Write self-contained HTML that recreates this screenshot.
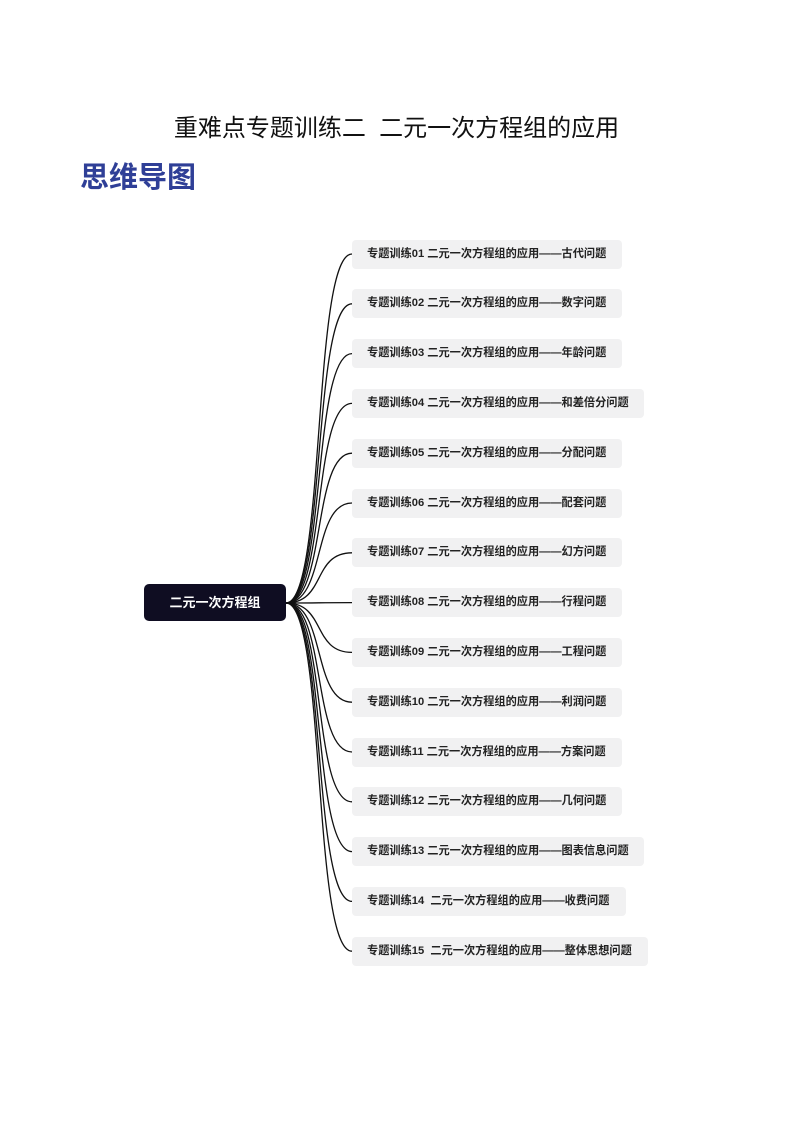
<!DOCTYPE html>
<html><head><meta charset="utf-8"><style>
body{margin:0;width:793px;height:1122px;background:#fff;position:relative;font-family:"Liberation Sans","Noto Sans CJK SC",sans-serif;overflow:hidden}
.t{position:absolute;top:108px;left:0;width:793px;text-align:center;font-size:24px;color:#111}
.h{position:absolute;left:80px;top:154px;font-size:29px;font-weight:bold;color:#2f3f97}
.root{position:absolute;left:144px;top:584px;width:142px;height:37px;background:#0f0d22;border-radius:5px;color:#fff;font-size:13px;font-weight:bold;text-align:center;line-height:37px}
.n{position:absolute;left:352px;height:29px;background:#f1f1f2;border-radius:4px;font-size:11.2px;font-weight:bold;color:#222;line-height:29px;padding-left:15px;box-sizing:border-box;white-space:nowrap}
svg{position:absolute;left:0;top:0}
</style></head><body>
<div class="t">重难点专题训练二&nbsp; 二元一次方程组的应用</div>
<div class="h">思维导图</div>
<svg width="793" height="1122" id="s"></svg>
<div class="root">二元一次方程组</div>
<div id="c"></div>
<script>
var items=[["01","古代问题",270],["02","数字问题",270],["03","年龄问题",270],["04","和差倍分问题",292],["05","分配问题",270],["06","配套问题",270],["07","幻方问题",270],["08","行程问题",270],["09","工程问题",270],["10","利润问题",270],["11","方案问题",270],["12","几何问题",270],["13","图表信息问题",292],["14","收费问题",274,1],["15","整体思想问题",296,1]];
var s="",h="";
items.forEach(function(it,i){var cy=254+i*49.8;
s+='<path d="M286 603 C326 603 312 '+cy+' 352 '+cy+'" fill="none" stroke="#111" stroke-width="1.3"/>';
h+='<div class="n" style="top:'+(cy-14.5)+'px;width:'+it[2]+'px">专题训练'+it[0]+(it[3]?'&nbsp; ':' ')+'二元一次方程组的应用——'+it[1]+'</div>';});
document.getElementById('s').innerHTML=s;document.getElementById('c').innerHTML=h;
</script>
</body></html>
